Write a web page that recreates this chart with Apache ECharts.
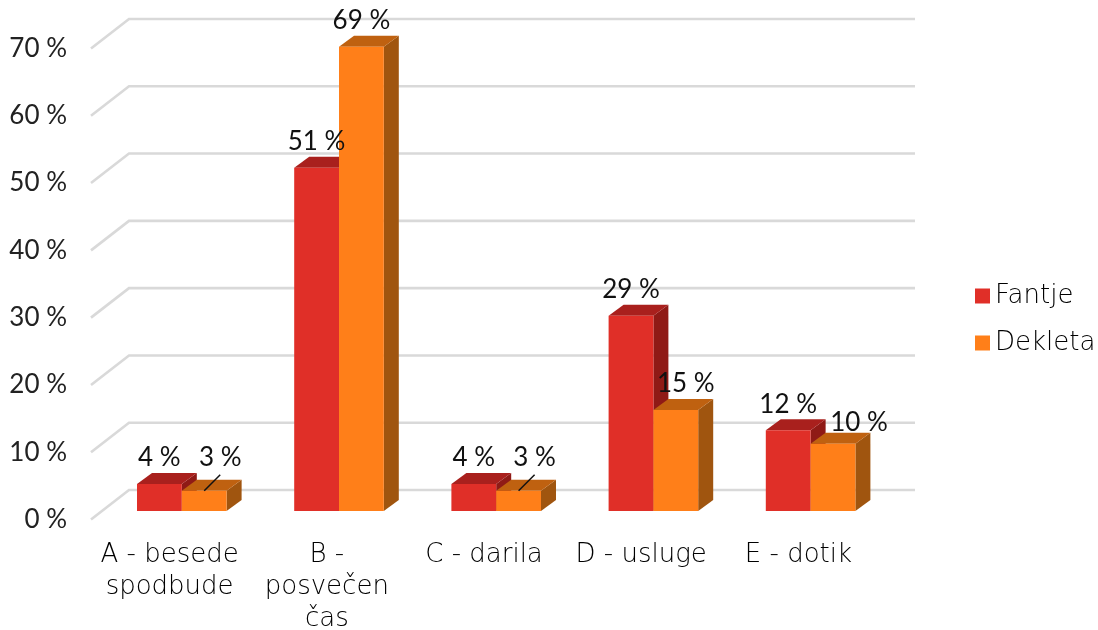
<!DOCTYPE html>
<html><head><meta charset="utf-8">
<style>html,body{margin:0;padding:0;background:#fff}#c{width:1098px;height:630px}</style>
<script src="https://cdn.jsdelivr.net/npm/echarts@6/dist/echarts.min.js"></script>
</head><body><div id="c"></div>
<script>
const categories = ['A - besede\nspodbude', 'B -\nposvečen\nčas', 'C - darila', 'D - usluge', 'E - dotik'];
const fantje = [4, 51, 4, 29, 12];
const dekleta = [3, 69, 3, 15, 10];
const ticks = [0, 10, 20, 30, 40, 50, 60, 70];

const WORD_FONT = '"DejaVu Sans"';
const NUM_FONT = 'Lato';
const WALL = [38, -29.5];
const BAR_PLANE = [12.2, -8.5];
const BAR_DEPTH = [15, -11];
const BAR_RATIO = 0.285;
const LABEL_RISE = 26;
const nudges = {
  Fantje: {},
  Dekleta: {0: [16, -7], 2: [16, -7], 3: [10, 0], 4: [26, 5]}
};
const leaders = {Dekleta: [0, 2]};

function poly(points, fill) {
  return {type: 'polygon', shape: {points}, style: {fill}};
}
function barSeries(name, values, slot, colors) {
  return {
    name, type: 'custom', z: 2, itemStyle: {color: colors[0]},
    data: values.map((v, i) => [i, v]),
    encode: {x: 0, y: 1},
    renderItem(params, api) {
      const i = api.value(0), v = api.value(1);
      const base = api.coord([i, 0]), top = api.coord([i, v]);
      const w = api.size([1, 0])[0] * BAR_RATIO;
      const x0 = base[0] + BAR_PLANE[0] - w + slot * w, x1 = x0 + w;
      const yb = base[1] + BAR_PLANE[1], yt = top[1] + BAR_PLANE[1];
      const [dx, dy] = BAR_DEPTH;
      const children = [
        poly([[x1, yb], [x1 + dx, yb + dy], [x1 + dx, yt + dy], [x1, yt]], colors[2]),
        poly([[x0, yt], [x1, yt], [x1 + dx, yt + dy], [x0 + dx, yt + dy]], colors[1]),
        poly([[x0, yb], [x1, yb], [x1, yt], [x0, yt]], colors[0])
      ];
      const n = nudges[name][i] || [0, 0];
      children.push({
        type: 'text', z2: 100,
        style: {
          text: v + ' %', x: (x0 + x1) / 2 + n[0], y: yt - LABEL_RISE + n[1],
          align: 'center', verticalAlign: 'middle',
          font: '400 26px ' + NUM_FONT, fill: '#111'
        }
      });
      if ((leaders[name] || []).includes(i)) {
        const lx = (x0 + x1) / 2;
        children.push({
          type: 'line', z2: 100,
          shape: {x1: lx, y1: yt, x2: lx + 16, y2: yt - 16},
          style: {stroke: '#111', lineWidth: 1.5}
        });
      }
      return {type: 'group', children};
    }
  };
}

const chart = echarts.init(document.getElementById('c'), null, {renderer: 'canvas'});
chart.setOption({
  animation: false,
  backgroundColor: '#fff',
  grid: {left: 91, top: 48.5, width: 786, height: 471, containLabel: false, outerBoundsMode: 'none'},
  legend: {
    orient: 'vertical', left: 970, top: 278, itemWidth: 15, itemHeight: 15, itemGap: 21, icon: 'rect',
    data: ['Fantje', 'Dekleta'],
    textStyle: {fontFamily: WORD_FONT, fontWeight: 300, fontSize: 26, color: '#000'}
  },
  xAxis: {
    type: 'category', data: categories,
    axisLine: {show: false}, axisTick: {show: false}, splitLine: {show: false},
    axisLabel: {interval: 0, margin: 20, fontFamily: WORD_FONT, fontWeight: 300, fontSize: 26, lineHeight: 32, color: '#000'}
  },
  yAxis: {
    type: 'value', min: 0, max: 70, interval: 10,
    axisLine: {show: false}, axisTick: {show: false}, splitLine: {show: false},
    axisLabel: {formatter: '{value} %', margin: 24, padding: [8, 0, 0, 0], fontFamily: NUM_FONT, fontWeight: 400, fontSize: 26, color: '#222'}
  },
  series: [
    {
      name: 'wall', type: 'custom', z: 1, silent: true,
      data: ticks.map(t => [0, t]), encode: {x: 0, y: 1},
      renderItem(params, api) {
        const y = api.coord([0, api.value(1)])[1];
        const x = params.coordSys.x, w = params.coordSys.width;
        return {
          type: 'polyline',
          shape: {points: [[x, y], [x + WALL[0], y + WALL[1]], [x + w + WALL[0], y + WALL[1]]]},
          style: {stroke: '#D9D9D9', lineWidth: 2.6, fill: null}
        };
      }
    },
    barSeries('Fantje', fantje, 0, ['#E02F28', '#A9201D', '#8F1A16']),
    barSeries('Dekleta', dekleta, 1, ['#FF7F19', '#BF6110', '#A0550F'])
  ]
});
</script></body></html>
